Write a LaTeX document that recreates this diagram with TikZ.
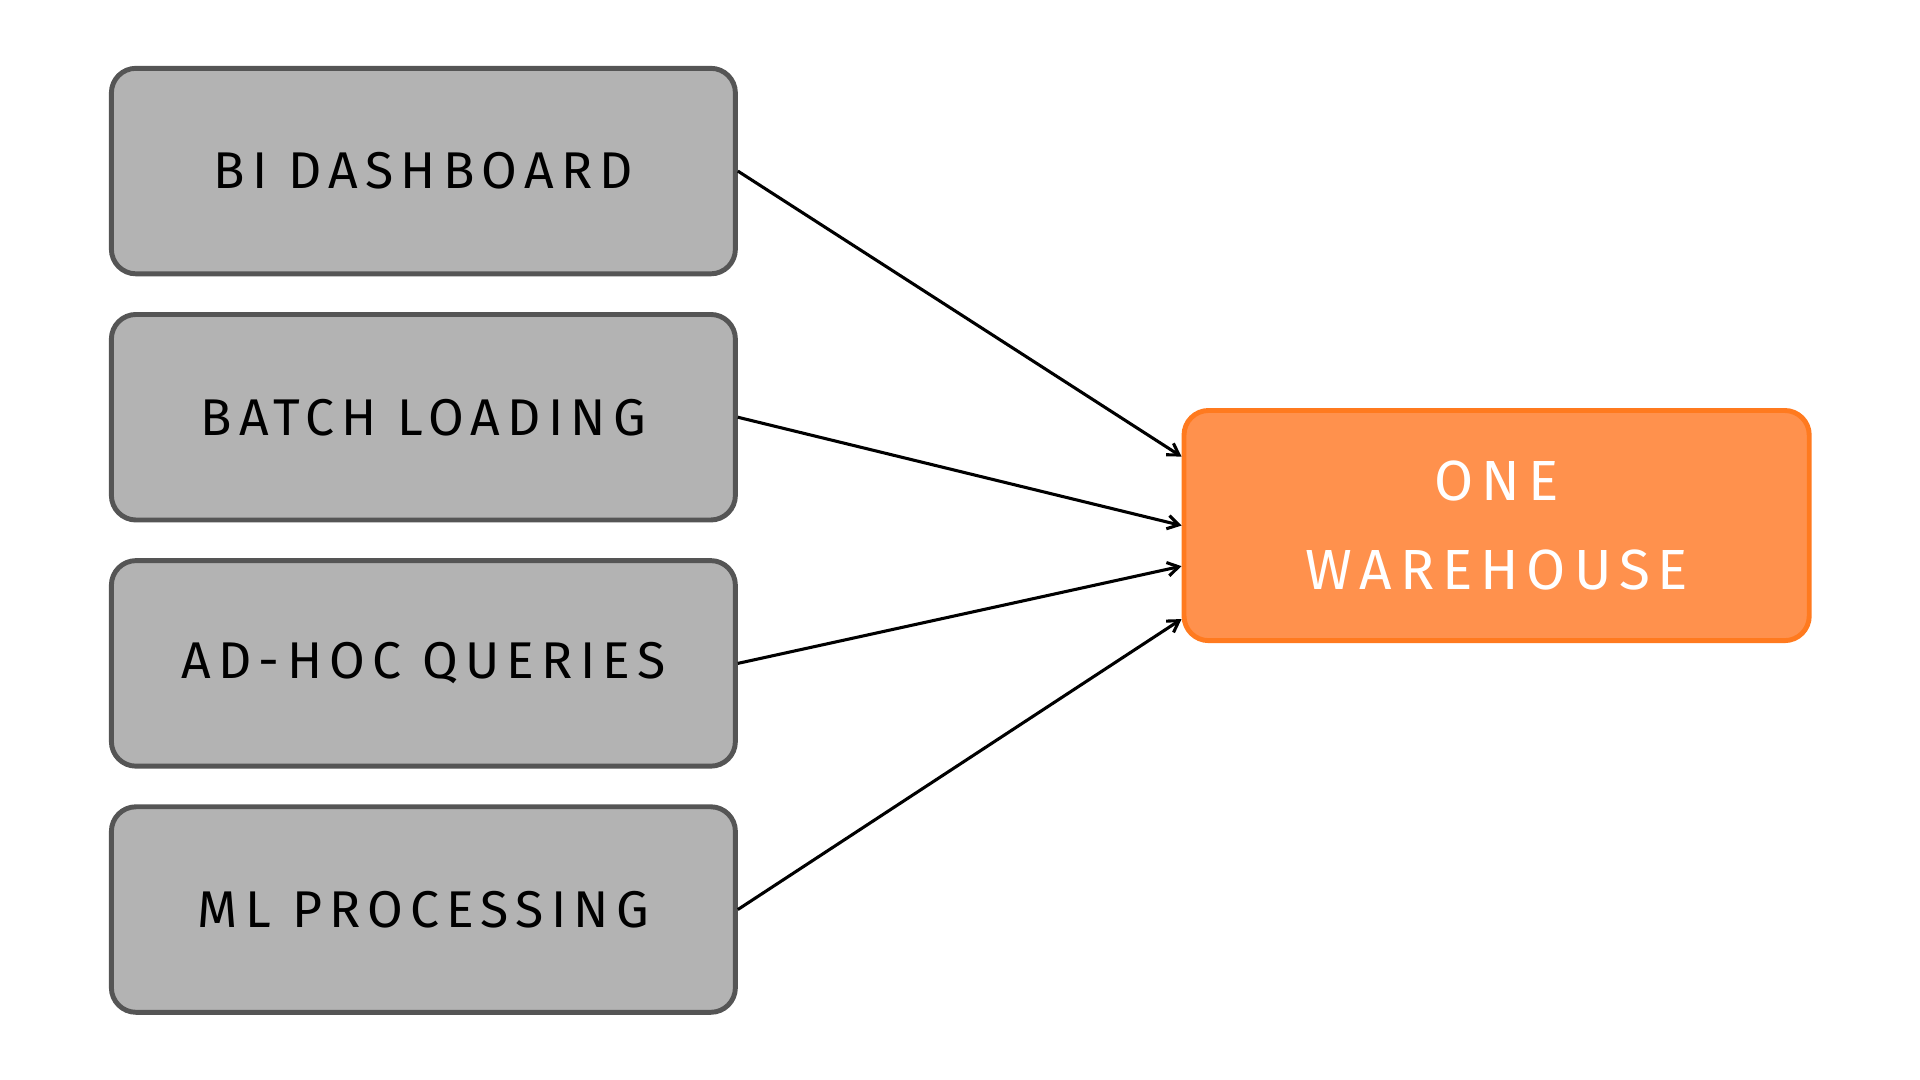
\documentclass[tikz,border=0pt]{standalone}
\usepackage{fontspec}
\setmainfont{Fira Sans}[LetterSpace=14]
\usetikzlibrary{positioning,arrows.meta}
\definecolor{boxgray}{HTML}{B3B3B3}
\definecolor{edgegray}{HTML}{555555}
\definecolor{whorange}{HTML}{FF914D}
\definecolor{whedge}{HTML}{FF7A1F}
\tikzset{every picture/.style={line width=2.5pt}}
\tikzset{
  src/.style={draw=edgegray, line width=4pt, fill=boxgray, rounded corners=20pt,
    minimum width=507pt, minimum height=167pt, inner sep=0pt,
    font=\fontsize{42}{58}\selectfont},
  sink/.style={draw=whedge, line width=4pt, fill=whorange, rounded corners=20pt,
    minimum width=508pt, minimum height=187pt, inner sep=0pt, align=center, text=white,
    font=\fontsize{46}{72}\selectfont},
  feed/.style={-{Straight Barb[length=9pt,width=11pt]}, line width=2.5pt}
}
\begin{document}
\begin{tikzpicture}[x=1pt,y=1pt,yscale=-1,xscale=1]
\useasboundingbox (0,0) rectangle (1560,877.5);

% Text Node
\node[src] (bi) at (344,139) {BI DASHBOARD};
% Text Node
\node[src] (batch) at (344,339) {BATCH LOADING};
% Text Node
\node[src] (adhoc) at (344,539) {AD-HOC QUERIES};
% Text Node
\node[src] (ml) at (344,739) {ML PROCESSING};
% Text Node
\node[sink] (wh) at (1216,427) {ONE\\WAREHOUSE};

% Straight Lines
\draw[feed] (bi.east) -- ([yshift=-56pt]wh.west);
\draw[feed] (batch.east) -- (wh.west);
\draw[feed] (adhoc.east) -- ([yshift=33pt]wh.west);
\draw[feed] (ml.east) -- ([yshift=76pt]wh.west);

\end{tikzpicture}
\end{document}
